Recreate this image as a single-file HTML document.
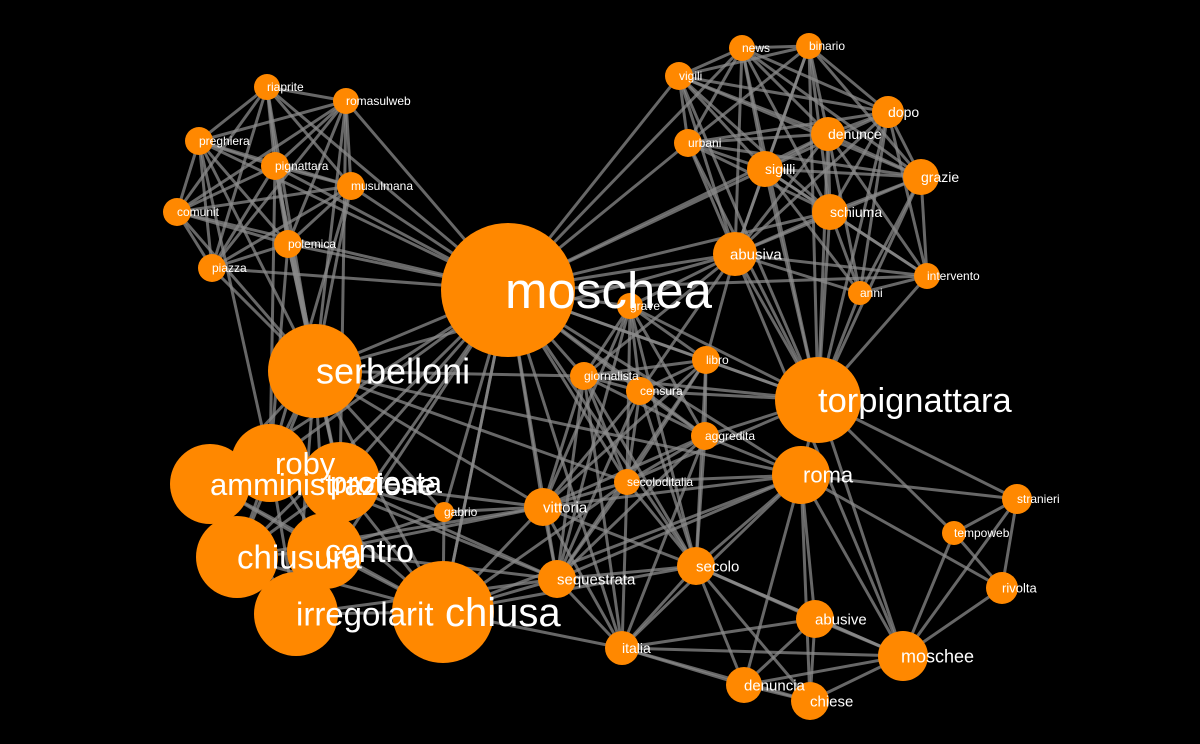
<!DOCTYPE html>
<html><head><meta charset="utf-8"><style>
html,body{margin:0;padding:0;background:#000;}
svg{display:block}
text{font-family:"Liberation Sans",sans-serif;fill:#fff;}
</style></head><body>
<svg id="g" width="1200" height="744" xmlns="http://www.w3.org/2000/svg"><rect width="1200" height="744" fill="#000"/><g id="e"></g><g id="n"></g><g id="t"></g></svg>
<script>
var N={
riaprite:[267,87,13],romasulweb:[346,101,13],preghiera:[199,141,14],pignattara:[275,166,14],musulmana:[351,186,14],comunit:[177,212,14],polemica:[288,244,14],piazza:[212,268,14],
moschea:[508,290,67],serbelloni:[315,371,47],roby:[270,463,39],amministrazione:[210,484,40],protesta:[340,482,40],chiusura:[237,557,41],contro:[325,551,38],irregolarit:[296,614,42],chiusa:[443,612,51],
gabrio:[444,512,10],vittoria:[543,507,19],sequestrata:[557,579,19],grave:[630,306,13],giornalista:[584,376,14],censura:[640,391,14],libro:[706,360,14],aggredita:[705,436,14],secoloditalia:[627,482,13],secolo:[696,566,19],italia:[622,648,17],
torpignattara:[818,400,43],roma:[801,475,29],abusiva:[735,254,22],news:[742,48,13],binario:[809,46,13],vigili:[679,76,14],urbani:[688,143,14],dopo:[888,112,16],denunce:[828,134,17],sigilli:[765,169,18],grazie:[921,177,18],schiuma:[830,212,18],intervento:[927,276,13],anni:[860,293,12],
stranieri:[1017,499,15],tempoweb:[954,533,12],rivolta:[1002,588,16],abusive:[815,619,19],moschee:[903,656,25],denuncia:[744,685,18],chiese:[810,701,19]};
var L={moschea:[51,-3],serbelloni:[36,1],torpignattara:[34.5,0],chiusa:[40,2],roby:[31,5],amministrazione:[31,0],protesta:[31,-10],chiusura:[33,0],contro:[32,0],irregolarit:[33,0],roma:[22,2],moschee:[18,-2],sequestrata:[15,0],vittoria:[15,0],secolo:[15,0],abusiva:[15,-5],abusive:[15,0],denuncia:[15,0],chiese:[15,0],italia:[14,0],sigilli:[14,0],schiuma:[14,0],grazie:[14,0],dopo:[14,0],denunce:[14,0],rivolta:[13,0],stranieri:[12,0]};
var E=[];
function clique(a){for(var i=0;i<a.length;i++)for(var j=i+1;j<a.length;j++)E.push([a[i],a[j]]);}
function star(c,a){a.forEach(function(x){E.push([c,x])});}
clique(["riaprite","romasulweb","preghiera","pignattara","musulmana","comunit","polemica","piazza"]);
star("serbelloni",["riaprite","romasulweb","preghiera","pignattara","musulmana","comunit","polemica","piazza"]);
star("moschea",["riaprite","romasulweb","preghiera","pignattara","musulmana","comunit","polemica","piazza"]);
star("roby",["pignattara","polemica","musulmana","preghiera"]);
star("protesta",["pignattara","polemica","romasulweb"]);
clique(["roby","amministrazione","protesta","chiusura","contro","irregolarit","chiusa","serbelloni","moschea"]);
star("gabrio",["moschea","chiusa","contro","protesta","vittoria","serbelloni"]);
clique(["news","binario","vigili","urbani","dopo","denunce","sigilli","grazie","schiuma","abusiva"]);
star("torpignattara",["news","binario","vigili","urbani","dopo","denunce","sigilli","grazie","schiuma","abusiva","intervento","anni","roma","stranieri","tempoweb","moschee","libro","aggredita","censura","grave","giornalista","secoloditalia","moschea"]);
star("intervento",["grazie","schiuma","dopo","denunce","sigilli","abusiva","anni"]);
star("anni",["grazie","schiuma","dopo","sigilli","abusiva","denunce"]);
star("moschea",["abusiva","vigili","urbani","sigilli","news","denunce","grave","giornalista","censura","libro","aggredita","secoloditalia","vittoria","sequestrata","secolo","italia","roma","chiusa","intervento","schiuma"]);
clique(["grave","giornalista","censura","libro","aggredita","secoloditalia","vittoria","sequestrata","secolo"]);
star("roma",["secolo","italia","abusive","denuncia","chiese","moschee","vittoria","sequestrata","secoloditalia","aggredita","chiusa","serbelloni","stranieri","rivolta"]);
clique(["abusive","denuncia","chiese","moschee","italia","secolo"]);
clique(["stranieri","tempoweb","rivolta","moschee"]);
star("chiusa",["vittoria","sequestrata","italia","secolo","secoloditalia"]);
star("sequestrata",["contro","protesta","irregolarit","italia","roby"]);
star("vittoria",["serbelloni","protesta","contro","chiusura","italia"]);
star("serbelloni",["giornalista","secoloditalia","abusiva"]);
star("abusiva",["grave","libro","censura","giornalista"]);
star("italia",["secoloditalia","aggredita","giornalista"]);
star("moschee",["abusiva","secolo"]);
var s="";E.forEach(function(p){var a=N[p[0]],b=N[p[1]];s+='<line x1="'+a[0]+'" y1="'+a[1]+'" x2="'+b[0]+'" y2="'+b[1]+'"/>';});
var ge=document.getElementById("e");ge.innerHTML=s;ge.setAttribute("stroke","#8a8a8a");ge.setAttribute("stroke-width","3");ge.setAttribute("stroke-opacity","0.75");
var sn="",st="";
for(var k in N){var v=N[k];sn+='<circle cx="'+v[0]+'" cy="'+v[1]+'" r="'+v[2]+'" fill="#ff8800"/>';
var f=L[k]?L[k][0]:12,dx=L[k]?L[k][1]:0;
st+='<text x="'+(v[0]+dx)+'" y="'+(v[1]+f*0.35)+'" font-size="'+f+'">'+k+'</text>';}
document.getElementById("n").innerHTML=sn;document.getElementById("t").innerHTML=st;
</script>
</body></html>
